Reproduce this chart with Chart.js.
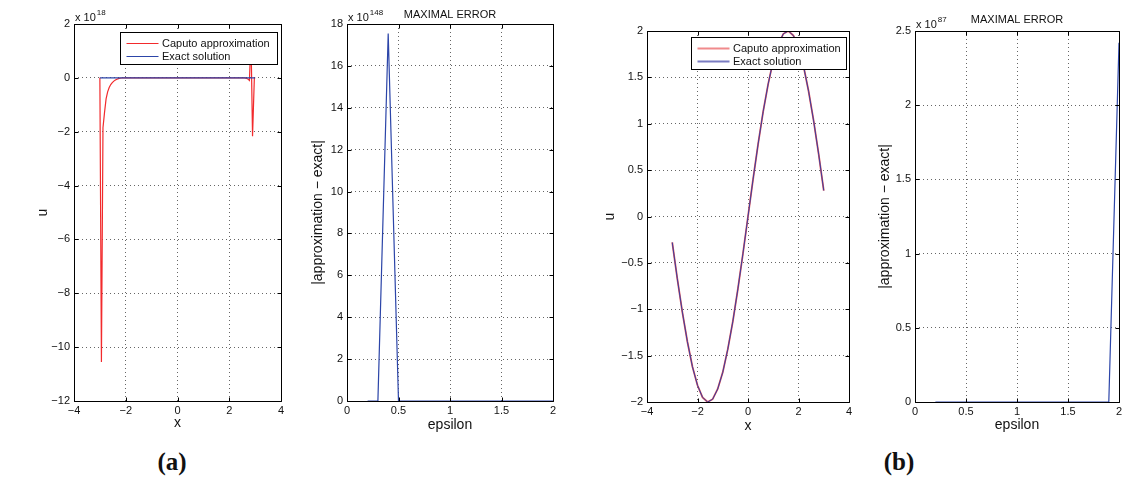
<!DOCTYPE html>
<html><head><meta charset="utf-8">
<script src="https://cdn.jsdelivr.net/npm/chart.js@4/dist/chart.umd.min.js"></script>
<style>
html,body{margin:0;padding:0;background:#fff;width:1142px;height:485px;overflow:hidden;position:relative;}
canvas{position:absolute;top:0;}
.lab{position:absolute;top:448px;width:80px;text-align:center;font-family:"Liberation Serif","DejaVu Serif",serif;font-weight:bold;font-size:25px;color:#111;}
</style></head><body>
<canvas id="p1"></canvas><canvas id="p2"></canvas><canvas id="p3"></canvas><canvas id="p4"></canvas>
<div class="lab" style="left:132px">(a)</div>
<div class="lab" style="left:859px">(b)</div>
<script>
// ---- (a) left: u(x), values in units of 1e18 ----
const xCaputoA = [-3.00,-2.94,-2.88,-2.82,-2.76,-2.70,-2.64,-2.58,-2.52,-2.46,-2.40,-2.34,-2.28,-2.22,-2.16,-2.10,-1.0,0,1.0,2.0,2.60,2.70,2.78,2.84,2.90,2.97,3.00];
const uCaputoA = [0,-10.55,-1.85,-1.28,-0.78,-0.52,-0.36,-0.25,-0.18,-0.12,-0.08,-0.05,-0.03,-0.015,-0.005,0,0,0,0,0,0,-0.03,-0.10,1.5,-2.17,0,0];
const xExactA = [-3,-2,-1,0,1,2,3];
const uExactA = [0,0,0,0,0,0,0];
// ---- (a) right: maximal error vs epsilon, units of 1e148 ----
const epsA = [0.2,0.3,0.4,0.5,0.6,0.7,0.8,0.9,1.0,1.1,1.2,1.3,1.4,1.5,1.6,1.7,1.8,1.9,2.0];
const errA = [0,0,17.55,0,0,0,0,0,0,0,0,0,0,0,0,0,0,0,0];
// ---- (b) left: u(x) ----
const xB = [-3.0,-2.8,-2.6,-2.4,-2.2,-2.0,-1.8,-1.6,-1.4,-1.2,-1.0,-0.8,-0.6,-0.4,-0.2,0.0,0.2,0.4,0.6,0.8,1.0,1.2,1.4,1.6,1.8,2.0,2.2,2.4,2.6,2.8,3.0];
const uCaputoB = [-0.28,-0.67,-1.03,-1.35,-1.62,-1.82,-1.95,-2.00,-1.97,-1.86,-1.68,-1.43,-1.13,-0.78,-0.40,0.00,0.40,0.78,1.13,1.43,1.68,1.86,1.97,2.00,1.95,1.82,1.62,1.35,1.03,0.67,0.28];
const uExactB  = [-0.28,-0.67,-1.03,-1.35,-1.62,-1.82,-1.95,-2.00,-1.97,-1.86,-1.68,-1.43,-1.13,-0.78,-0.40,0.00,0.40,0.78,1.13,1.43,1.68,1.86,1.97,2.00,1.95,1.82,1.62,1.35,1.03,0.67,0.28];
// ---- (b) right: maximal error vs epsilon, units of 1e87 ----
const epsB = [0.2,0.3,0.4,0.5,0.6,0.7,0.8,0.9,1.0,1.1,1.2,1.3,1.4,1.5,1.6,1.7,1.8,1.9,2.0];
const errB = [0,0,0,0,0,0,0,0,0,0,0,0,0,0,0,0,0,0,2.42];
// axis exponents and labels
const expoA1 = '18', expoA2 = '148', expoB2 = '87';
const seriesNames = ['Caputo approximation','Exact solution'];
const errTitle = 'MAXIMAL ERROR';
const errLabel = '|approximation \u2212 exact|';

const pts = (xs, ys) => xs.map((x,i)=>({x, y: ys[i]}));
const FONT = '"Liberation Sans", Arial, Helvetica, sans-serif';
Chart.defaults.font.family = FONT;
Chart.defaults.color = '#111';

function fmt(v){ const r = Math.round(v*1000)/1000; return (r<0?'\u2212':'') + Math.abs(r); }

const matlab = {
  id:'matlab',
  afterDatasetsDraw(chart, args, o) {
    const {ctx, chartArea:a, scales:{x,y}} = chart;
    const l = Math.round(a.left)+0.5, t = Math.round(a.top)+0.5, r = Math.round(a.right)+0.5, b = Math.round(a.bottom)+0.5;
    ctx.save();
    ctx.setLineDash([]);
    ctx.strokeStyle = '#000'; ctx.lineWidth = 1;
    ctx.beginPath();
    ctx.rect(l, t, r-l, b-t);
    const tl = 4;
    x.ticks.forEach(tk => { const px = Math.round(x.getPixelForValue(tk.value))+0.5; ctx.moveTo(px,b); ctx.lineTo(px,b-tl); ctx.moveTo(px,t); ctx.lineTo(px,t+tl); });
    y.ticks.forEach(tk => { const py = Math.round(y.getPixelForValue(tk.value))+0.5; ctx.moveTo(l,py); ctx.lineTo(l+tl,py); ctx.moveTo(r,py); ctx.lineTo(r-tl,py); });
    ctx.stroke();
    if (o.legend) {
      const lg = o.legend;
      const bx = Math.round(a.right - lg.dr - lg.w)+0.5, by = Math.round(a.top + lg.dt)+0.5;
      ctx.fillStyle = '#fff'; ctx.fillRect(bx, by, lg.w, lg.h);
      ctx.strokeStyle = '#000'; ctx.lineWidth = 1; ctx.strokeRect(bx, by, lg.w, lg.h);
      ctx.font = '11px ' + FONT; ctx.textBaseline = 'middle'; ctx.textAlign = 'left';
      chart.data.datasets.forEach((ds, i) => {
        const yy = Math.round(by + 10.5 + i*13) + 0.5;
        ctx.strokeStyle = ds.legendColor || ds.borderColor; ctx.lineWidth = ds.legendWidth || 1;
        ctx.beginPath(); ctx.moveTo(bx+6, yy); ctx.lineTo(bx+38, yy); ctx.stroke();
        ctx.fillStyle = '#111'; ctx.fillText(ds.label, bx+41.5, yy+0.5);
      });
    }
    if (o.expo) {
      ctx.fillStyle = '#111'; ctx.textBaseline = 'alphabetic'; ctx.textAlign = 'left';
      ctx.font = '11px ' + FONT;
      const s = 'x 10'; const w = ctx.measureText(s).width;
      ctx.fillText(s, a.left + 1, a.top - 3);
      ctx.font = '8px ' + FONT;
      ctx.fillText(o.expo, a.left + 2 + w, a.top - 9);
    }
    ctx.restore();
  }
};

function makePanel(p) {
  const cv = document.getElementById(p.id);
  cv.width = p.cw; cv.height = 440; cv.style.left = p.cx + 'px';
  cv.style.width = p.cw + 'px'; cv.style.height = '440px';
  const titleLH = 13.2, axLH = 16.8;
  const scaleLeft = p.yTitleX - axLH/2;
  const W = p.L - scaleLeft;
  const padLeft = scaleLeft - p.cx;
  const padRight = p.cx + p.cw - p.R;
  const scaleBottom = p.xTitleY + axLH/2;
  const H = scaleBottom - p.B;
  const padBottom = 440 - scaleBottom;
  let padTop = p.T, title = {display:false};
  if (p.title) {
    padTop = 0;
    const tp = p.titleY - titleLH/2;
    title = {display:true, text:p.title, fullSize:false, align:'center', color:'#111',
             font:{size:11, weight:'normal', lineHeight:1.2}, padding:{top:tp, bottom:p.T - titleLH - tp}};
  }
  const gridOpts = {drawTicks:false, color:'rgba(0,0,0,0.6)', lineWidth:1};
  new Chart(cv, {
    type:'line',
    data:{datasets:p.datasets},
    options:{
      responsive:false, animation:false, events:[],
      layout:{padding:{left:padLeft, right:padRight, top:padTop, bottom:padBottom}},
      elements:{point:{radius:0}, line:{tension:0, borderWidth:1}},
      plugins:{legend:{display:false}, tooltip:{enabled:false}, title, matlab:{legend:p.legend, expo:p.expo}},
      scales:{
        x:{type:'linear', min:p.xmin, max:p.xmax, afterFit(s){ s.height = H; },
           ticks:{stepSize:p.xstep, autoSkip:false, maxRotation:0, padding:3, callback:fmt, color:'#111', font:{size:11}},
           grid:gridOpts, border:{display:false, dash:[1,3]},
           title:{display:true, text:p.xTitle, color:'#111', font:{size:14, lineHeight:1.2}, padding:0}},
        y:{type:'linear', min:p.ymin, max:p.ymax, afterFit(s){ s.width = W; },
           ticks:{stepSize:p.ystep, autoSkip:false, padding:4, callback:fmt, color:'#111', font:{size:11}},
           grid:gridOpts, border:{display:false, dash:[1,3]},
           title:{display:true, text:p.yTitle, color:'#111', font:{size:14, lineHeight:1.2}, padding:0}}
      }
    },
    plugins:[matlab]
  });
}

const RED = '#f22a2c', BLUE = '#2c45a8';

makePanel({id:'p1', cx:0, cw:290, L:74, R:281, T:24, B:401, yTitleX:43, xTitleY:423,
  xmin:-4, xmax:4, xstep:2, ymin:-12, ymax:2, ystep:2, xTitle:'x', yTitle:'u', expo:expoA1,
  legend:{w:157, h:32, dr:4, dt:8},
  datasets:[
    {label:seriesNames[0], data:pts(xCaputoA,uCaputoA), borderColor:RED, borderWidth:1.2, order:1},
    {label:seriesNames[1], data:pts(xExactA,uExactA), borderColor:BLUE, borderWidth:1.2, order:0}
  ]});

makePanel({id:'p2', cx:290, cw:290, L:347, R:553, T:24, B:401, yTitleX:318, xTitleY:425, title:errTitle, titleY:15,
  xmin:0, xmax:2, xstep:0.5, ymin:0, ymax:18, ystep:2, xTitle:'epsilon', yTitle:errLabel, expo:expoA2,
  datasets:[{label:'error', data:pts(epsA,errA), borderColor:BLUE, borderWidth:1.2}]});

makePanel({id:'p3', cx:580, cw:290, L:647, R:849, T:31, B:402, yTitleX:610, xTitleY:426,
  xmin:-4, xmax:4, xstep:2, ymin:-2, ymax:2, ystep:0.5, xTitle:'x', yTitle:'u',
  legend:{w:155, h:32, dr:3, dt:6},
  datasets:[
    {label:seriesNames[0], data:pts(xB,uCaputoB), borderColor:'#e2585c', borderWidth:1.8, legendColor:'#f08a8c', legendWidth:2, order:1},
    {label:seriesNames[1], data:pts(xB,uExactB), borderColor:'#3a3d9e', borderWidth:1, legendColor:'#7a7cc2', legendWidth:2, order:0}
  ]});

makePanel({id:'p4', cx:870, cw:272, L:915, R:1119, T:31, B:402, yTitleX:885, xTitleY:425, title:errTitle, titleY:20,
  xmin:0, xmax:2, xstep:0.5, ymin:0, ymax:2.5, ystep:0.5, xTitle:'epsilon', yTitle:errLabel, expo:expoB2,
  datasets:[{label:'error', data:pts(epsB,errB), borderColor:BLUE, borderWidth:1.2}]});
</script>
</body></html>
